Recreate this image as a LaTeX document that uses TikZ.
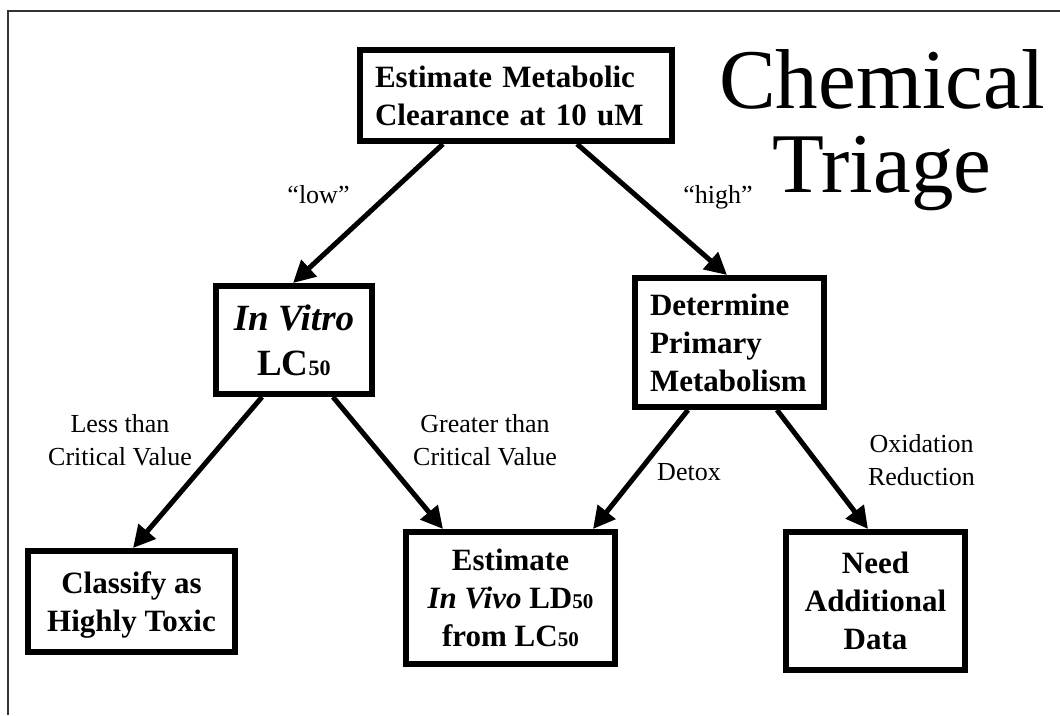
\documentclass[tikz,border=0pt]{standalone}
\usepackage{fontspec}
\setmainfont{Liberation Serif}
\usetikzlibrary{arrows.meta,calc}
\newcommand\boxfont{\fontsize{31}{38}\selectfont\bfseries}
\newcommand\lblfont{\fontsize{26}{32.5}\selectfont}
\newcommand\smallnum[1]{{\fontsize{21}{21}\selectfont #1}}
\tikzset{
  box/.style={draw, line width=6pt, inner sep=0pt, align=center, font=\boxfont},
  conn/.style={line width=5pt, -{Triangle[length=22pt,width=22pt]}},
  lbl/.style={inner sep=0pt, font=\lblfont, align=center},
  ttl/.style={inner sep=0pt, anchor=base, font=\fontsize{85}{85}\selectfont},
}
\begin{document}
\begin{tikzpicture}[x=1pt,y=-1pt]
\useasboundingbox (0,0) rectangle (1060,715);
\draw[line width=1.5pt, black!80] (8,715) -- (8,11) -- (1060,11);

% title
\node[ttl] (t1) at (882,108) {Chemical};
\node[ttl] (t2) at (882,192) {Triage};

% boxes
\node[box, minimum width=312pt, minimum height=91pt, text width=282pt, align=left, inner xsep=15pt] (top) at (516,95.5) {Estimate Metabolic\\Clearance at 10 uM};
\node[box, minimum width=156pt, minimum height=108pt, font=\fontsize{37}{45}\selectfont\bfseries] (vitro) at (294,340) {\textit{In Vitro}\\LC{\fontsize{22}{22}\selectfont 50}};
\node[box, minimum width=189pt, minimum height=129pt, text width=159pt, align=left, inner xsep=15pt] (det) at (729.5,342.5) {Determine\\Primary\\Metabolism};
\node[box, minimum width=207pt, minimum height=101pt, text depth=0pt] (cls) at (131.5,601.5) {Classify as\\Highly Toxic};
\node[box, minimum width=209pt, minimum height=132pt] (est) at (510.5,598) {Estimate\\\textit{In Vivo} LD\smallnum{50}\\from LC\smallnum{50}};
\node[box, minimum width=179pt, minimum height=138pt] (need) at (875.5,601) {Need\\Additional\\Data};

% labels
\node[lbl, anchor=base] (llow) at (318.5,203) {“low”};
\node[lbl, anchor=base] (lhigh) at (718,203) {“high”};
\node[lbl] (lless) at (120,440) {Less than\\Critical Value};
\node[lbl] (lgreater) at (485,440) {Greater than\\Critical Value};
\node[lbl, anchor=base] (ldetox) at (689,480) {Detox};
\node[lbl] (loxid) at (921.5,460) {Oxidation\\Reduction};

% connectors
\draw[conn] ($(top.south)+(-73,0)$) -- ($(vitro.north)+(-1,0)$);
\draw[conn] ($(top.south)+(61,0)$) -- ($(det.north)+(-2.5,0)$);
\draw[conn] ($(vitro.south)+(-32,0)$) -- ($(cls.north)+(1.5,0)$);
\draw[conn] ($(vitro.south)+(39,0)$) -- ($(est.north)+(-67.5,0)$);
\draw[conn] ($(det.south)+(-41.5,0)$) -- ($(est.north)+(82.5,0)$);
\draw[conn] ($(det.south)+(47.5,0)$) -- ($(need.north)+(-7.5,0)$);
\end{tikzpicture}
\end{document}
